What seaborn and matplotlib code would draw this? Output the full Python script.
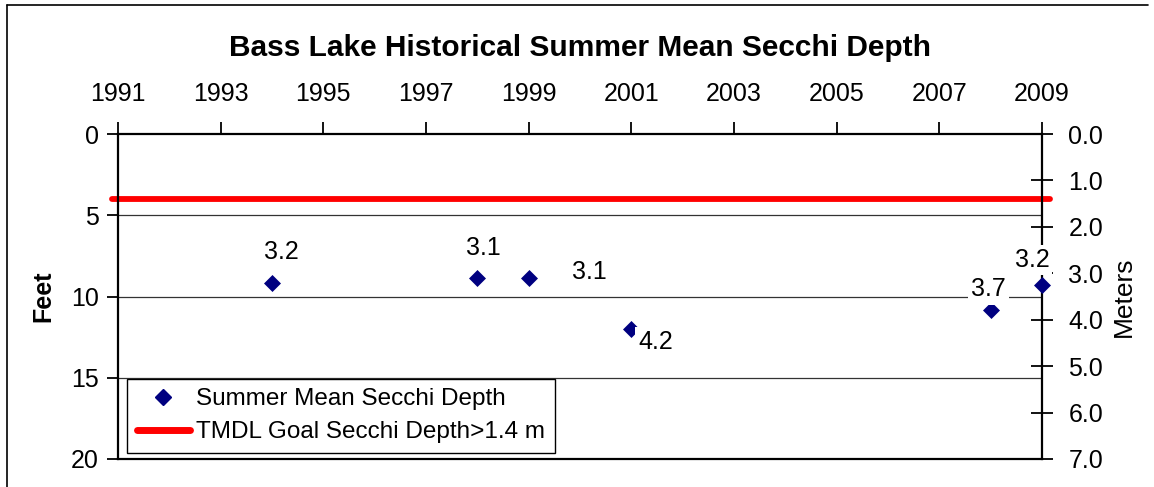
import matplotlib

matplotlib.use("Agg")
import matplotlib.pyplot as plt
import pandas as pd
import seaborn as sns
from matplotlib.lines import Line2D

# data
years = [1994, 1998, 1999, 2001, 2008, 2009]
depth_feet = [9.15, 8.85, 8.85, 12.0, 10.8, 9.3]
depth_labels = ["3.2", "3.1", "3.1", "4.2", "3.7", "3.2"]
goal_meters = 1.4
year_ticks = list(range(1991, 2010, 2))
feet_ticks = [0, 5, 10, 15, 20]
meter_ticks = [0, 1, 2, 3, 4, 5, 6, 7]

# label placement (pixels, relative to each point)
label_offsets = [(9, 31), (6, 30), (61, 6), (24, -13), (-2, 20), (-10, 25)]

W, H = 1154, 487
sns.set_theme(style="white", rc={"text.color": "black", "axes.labelcolor": "black",
                                 "xtick.color": "black", "ytick.color": "black"})
plt.rcParams["font.family"] = ["Liberation Sans", "DejaVu Sans"]

fig = plt.figure(figsize=(W / 100, H / 100), dpi=100)
ax = fig.add_axes([118 / W, 1 - 459 / H, 924 / W, 325 / H])

df = pd.DataFrame({"year": years, "feet": depth_feet})
sns.scatterplot(data=df, x="year", y="feet", marker="D", s=75, color="#000080",
                edgecolor="#000080", linewidth=0, ax=ax, zorder=5, clip_on=False)

ax.set_xlim(1991, 2009)
ax.set_ylim(20, 0)
ax.xaxis.tick_top()
ax.set_xticks(year_ticks)
ax.set_yticks(feet_ticks)
ax.set_xlabel("")
ax.set_ylabel("Feet", fontsize=18, fontweight="bold", labelpad=11)
ax.tick_params(axis="x", direction="out", length=9, width=1.3, pad=11,
               labelsize=18, colors="black", top=True, bottom=False)
ax.tick_params(axis="y", direction="out", length=8, width=1.3, pad=6,
               labelsize=18, colors="black", left=True)
for v in feet_ticks[1:-1]:
    ax.axhline(v, color="#333333", linewidth=0.9, zorder=1)
for sp in ax.spines.values():
    sp.set_color("black")
    sp.set_linewidth(1.6)

ax2 = ax.twinx()
ax2.set_ylim(7, 0)
ax2.set_yticks(meter_ticks)
ax2.set_yticklabels(["{0:.1f}".format(v) for v in meter_ticks])
ax2.tick_params(axis="y", direction="inout", length=16, width=1.3, pad=11,
                labelsize=18, colors="black")
ax2.set_ylabel("Meters", fontsize=19, labelpad=6)
for sp in ax2.spines.values():
    sp.set_visible(False)
ax2.axhline(goal_meters, xmin=-0.007, xmax=1.009, color="#ff0000",
            linewidth=4.2, clip_on=False, zorder=3)

# make the diamonds sit above the twin axes
ax.set_zorder(ax2.get_zorder() + 1)
ax.patch.set_visible(False)
ax.spines["right"].set_zorder(2)

for x, y, txt, (dx, dy) in zip(years, depth_feet, depth_labels, label_offsets):
    ax.annotate(txt, (x, y), xytext=(dx, dy), textcoords="offset pixels",
                ha="center", va="center", fontsize=18, color="black",
                bbox=dict(boxstyle="square,pad=0.12", fc="white", ec="none"),
                zorder=6, annotation_clip=False)

handles = [
    Line2D([], [], marker="D", linestyle="none", color="#000080", markersize=8),
    Line2D([], [], color="#ff0000", linewidth=5),
]
leg = ax.legend(handles, ["Summer Mean Secchi Depth", "TMDL Goal Secchi Depth>1.4 m"],
                loc="lower left", bbox_to_anchor=(0.0097, 0.018), borderaxespad=0,
                fontsize=17.5, frameon=True, fancybox=False, framealpha=1,
                edgecolor="black", handlelength=2.2, handletextpad=0.25,
                borderpad=0.4, labelspacing=0.45)
leg.get_frame().set_linewidth(1.0)
leg.set_zorder(7)

fig.text(580 / W, 1 - 48 / H, "Bass Lake Historical Summer Mean Secchi Depth",
         ha="center", va="center", fontsize=21.5, fontweight="bold", color="black")

# outer chart border
fig.add_artist(Line2D([7 / W, 7 / W], [0, 1 - 5 / H], transform=fig.transFigure,
                      color="black", linewidth=1.2))
fig.add_artist(Line2D([7 / W, 1148 / W], [1 - 5 / H, 1 - 5 / H], transform=fig.transFigure,
                      color="black", linewidth=1.2))

fig.savefig("out.png", dpi=100)
